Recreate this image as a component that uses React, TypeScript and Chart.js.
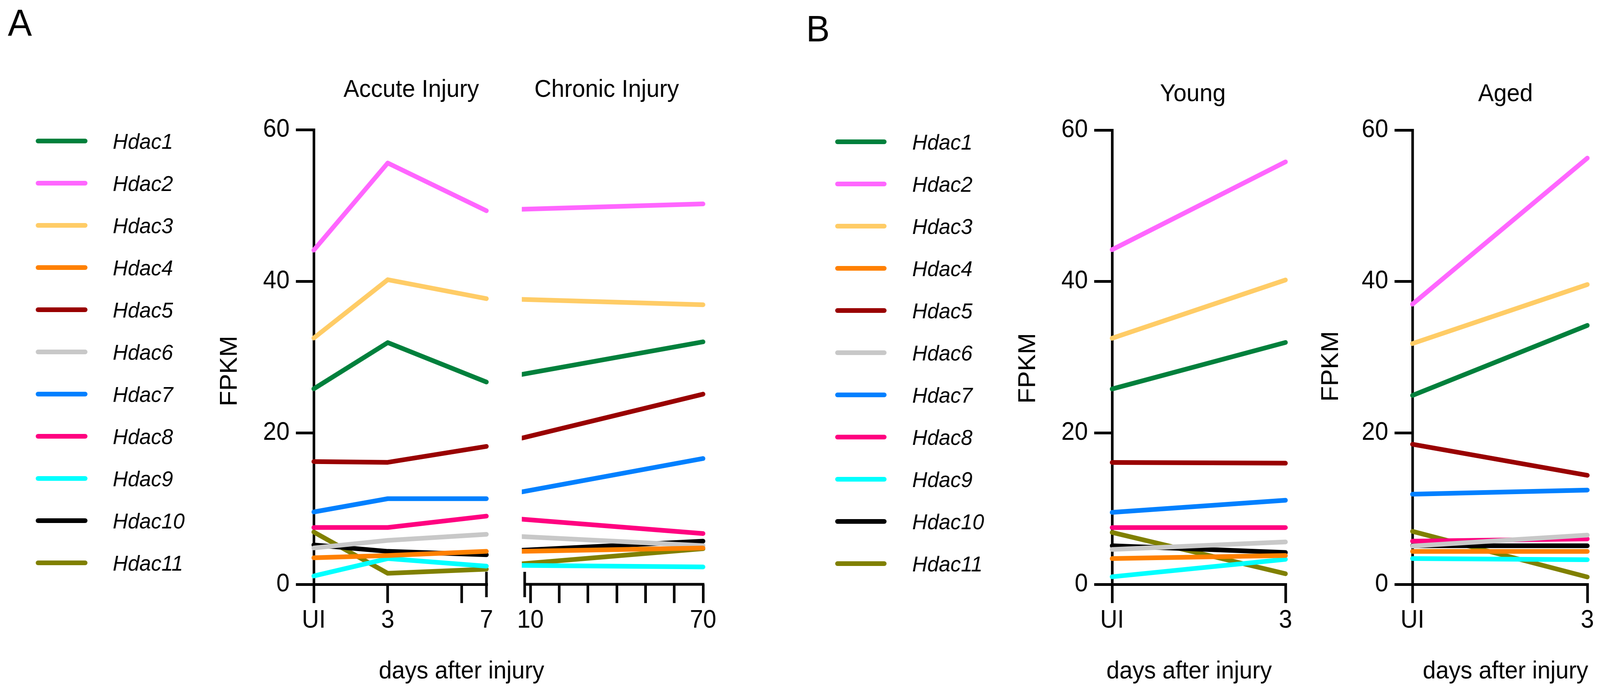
import React, { useEffect, useRef } from 'react';
import { Chart, registerables } from 'chart.js';

Chart.register(...registerables);

// design space = the reference picture, in its own pixels
const PAGE_W = 4299;
const PAGE_H = 1764;
const FONT = '"Liberation Sans", Arial, Helvetica, sans-serif';
const Y_AXIS_W = 303;

// ---------------- data ----------------
const genes = ['Hdac1', 'Hdac2', 'Hdac3', 'Hdac4', 'Hdac5', 'Hdac6', 'Hdac7', 'Hdac8', 'Hdac9', 'Hdac10', 'Hdac11'];
const geneColors = ['#00803C', '#FF66FF', '#FFCC66', '#FF8000', '#990000', '#C8C8C8', '#0080FF', '#FF0080', '#00FFFF', '#000000', '#808000'];

const acuteDays = [0, 3, 7];
const acuteTickValues = [0, 3, 6, 7];
const acuteTickLabels = ['UI', '3', '', '7'];

const chronicDays = [7, 70];
const chronicTickValues = [10, 20, 30, 40, 50, 60, 70];
const chronicTickLabels = ['10', '', '', '', '', '', '70'];

const agingDays = [0, 3];
const agingTickValues = [0, 3];
const agingTickLabels = ['UI', '3'];

const fpkmTickValues = [0, 20, 40, 60];

// rows follow the order of `genes`
const acuteFpkm = [
  [25.8, 31.9, 26.7],
  [44.1, 55.6, 49.3],
  [32.5, 40.2, 37.7],
  [3.5, 3.8, 4.35],
  [16.2, 16.1, 18.2],
  [4.8, 5.8, 6.6],
  [9.55, 11.3, 11.3],
  [7.5, 7.5, 9.0],
  [1.1, 3.4, 2.4],
  [5.2, 4.35, 3.9],
  [6.9, 1.45, 2.0],
];

const chronicFpkm = [
  [27.7, 32.0],
  [49.5, 50.2],
  [37.6, 36.9],
  [4.35, 4.8],
  [19.3, 25.1],
  [6.3, 5.1],
  [12.2, 16.6],
  [8.6, 6.7],
  [2.5, 2.3],
  [4.5, 5.7],
  [2.7, 4.7],
];

const youngFpkm = [
  [25.8, 31.95],
  [44.2, 55.8],
  [32.5, 40.2],
  [3.4, 3.8],
  [16.1, 16.0],
  [4.6, 5.6],
  [9.5, 11.1],
  [7.5, 7.5],
  [1.0, 3.3],
  [5.1, 4.2],
  [6.85, 1.4],
];

const agedFpkm = [
  [24.95, 34.2],
  [37.0, 56.3],
  [31.8, 39.6],
  [4.35, 4.35],
  [18.5, 14.4],
  [5.05, 6.5],
  [11.9, 12.45],
  [5.7, 6.0],
  [3.4, 3.25],
  [5.1, 5.1],
  [7.0, 0.97],
];

// ---------------- plugins ----------------
type TextItem = {
  text: string;
  x: number;
  y: number;
  size: number;
  rotate?: boolean;
  align?: CanvasTextAlign;
  baseline?: CanvasTextBaseline;
};

function textPlugin(items: TextItem[]) {
  return {
    id: 'panelText',
    afterDraw(chart: any) {
      const ctx: CanvasRenderingContext2D = chart.ctx;
      items.forEach((t) => {
        ctx.save();
        ctx.fillStyle = '#000';
        ctx.font = `${t.size}px ${FONT}`;
        ctx.textAlign = t.align ?? 'center';
        ctx.textBaseline = t.baseline ?? 'middle';
        ctx.translate(t.x, t.y);
        if (t.rotate) ctx.rotate(-Math.PI / 2);
        ctx.fillText(t.text, 0, 0);
        ctx.restore();
      });
    },
  };
}

type LegendSpec = { lineFrom: number; lineTo: number; textX: number; firstY: number; rowGap: number; size: number };

function legendPlugin(spec: LegendSpec) {
  return {
    id: 'geneLegend',
    afterDraw(chart: any) {
      const ctx: CanvasRenderingContext2D = chart.ctx;
      chart.data.datasets.forEach((ds: any, i: number) => {
        const y = spec.firstY + i * spec.rowGap;
        ctx.save();
        ctx.strokeStyle = ds.borderColor;
        ctx.lineWidth = 12;
        ctx.lineCap = 'round';
        ctx.beginPath();
        ctx.moveTo(spec.lineFrom, y);
        ctx.lineTo(spec.lineTo, y);
        ctx.stroke();
        ctx.fillStyle = '#000';
        ctx.font = `italic ${spec.size}px ${FONT}`;
        ctx.textAlign = 'left';
        ctx.textBaseline = 'alphabetic';
        ctx.fillText(ds.label, spec.textX, y + spec.size * 0.36);
        ctx.restore();
      });
    },
  };
}

function axisBreakPlugin(axisFrom: number | undefined, breaks: number[]) {
  return {
    id: 'axisBreak',
    beforeDatasetsDraw(chart: any) {
      const ctx: CanvasRenderingContext2D = chart.ctx;
      const xs = chart.scales.x;
      const { bottom, right } = chart.chartArea;
      ctx.save();
      ctx.strokeStyle = '#000';
      ctx.lineWidth = 7;
      ctx.lineCap = 'butt';
      if (axisFrom !== undefined) {
        ctx.beginPath();
        ctx.moveTo(xs.getPixelForValue(axisFrom), bottom);
        ctx.lineTo(right + 3.5, bottom);
        ctx.stroke();
      }
      breaks.forEach((b) => {
        const px = xs.getPixelForValue(b);
        ctx.beginPath();
        ctx.moveTo(px, bottom - 32);
        ctx.lineTo(px, bottom + 33);
        ctx.stroke();
      });
      ctx.restore();
    },
  };
}

// ---------------- panel builder ----------------
type Panel = {
  days: number[];
  values: number[][];
  xMin: number;
  xMax: number;
  tickValues: number[];
  tickLabels: string[];
  hiddenTicks: number[];
  area: { left: number; right: number; top: number; bottom: number };
  showY: boolean;
  axisFrom?: number;
  breaks: number[];
  clip: { left: number; right: number; top: number; bottom: number };
  texts: TextItem[];
  legend?: LegendSpec;
};

function panelConfig(p: Panel): any {
  const datasets = genes.map((g, i) => ({
    label: g,
    data: p.days.map((d, j) => ({ x: d, y: p.values[i][j] })),
    borderColor: geneColors[i],
    backgroundColor: geneColors[i],
    borderWidth: 12,
    pointRadius: 0,
    pointHoverRadius: 0,
    tension: 0,
    fill: false,
    borderCapStyle: 'round',
    borderJoinStyle: 'round',
    clip: p.clip,
  }));
  const tickFont = { family: FONT, size: 64 };
  const plugins: any[] = [axisBreakPlugin(p.axisFrom, p.breaks), textPlugin(p.texts)];
  if (p.legend) plugins.push(legendPlugin(p.legend));
  return {
    type: 'line',
    data: { datasets },
    options: {
      animation: false,
      responsive: false,
      maintainAspectRatio: false,
      devicePixelRatio: 1,
      events: [],
      layout: {
        padding: {
          left: p.area.left - (p.showY ? Y_AXIS_W : 0),
          right: PAGE_W - p.area.right,
          top: p.area.top,
          bottom: 0,
        },
      },
      plugins: { legend: { display: false }, tooltip: { enabled: false }, title: { display: false } },
      scales: {
        x: {
          type: 'linear',
          min: p.xMin,
          max: p.xMax,
          offset: false,
          afterBuildTicks: (s: any) => {
            s.ticks = p.tickValues.map((v) => ({ value: v }));
          },
          afterFit: (s: any) => {
            s.height = PAGE_H - p.area.bottom;
          },
          ticks: {
            autoSkip: false,
            maxRotation: 0,
            minRotation: 0,
            padding: 7,
            color: '#000',
            font: tickFont,
            callback: (v: number) => {
              const k = p.tickValues.indexOf(v);
              return k >= 0 ? p.tickLabels[k] : '';
            },
          },
          grid: {
            drawOnChartArea: false,
            drawTicks: true,
            tickLength: 48,
            color: '#000',
            lineWidth: (c: any) => (c.tick && p.hiddenTicks.includes(c.tick.value) ? 0 : 7),
          },
          border: { display: p.axisFrom === undefined, color: '#000', width: 7 },
        },
        y: {
          type: 'linear',
          display: p.showY,
          min: 0,
          max: 60,
          afterBuildTicks: (s: any) => {
            s.ticks = fpkmTickValues.map((v) => ({ value: v }));
          },
          afterFit: (s: any) => {
            s.width = p.showY ? Y_AXIS_W : 0;
          },
          ticks: { padding: 17, color: '#000', font: tickFont },
          grid: { drawOnChartArea: false, drawTicks: true, tickLength: 48, color: '#000', lineWidth: 7 },
          border: { display: true, color: '#000', width: 7 },
        },
      },
    },
    plugins,
  };
}

function buildPanels(): Panel[] {
  const acute: Panel = {
    days: acuteDays,
    values: acuteFpkm,
    xMin: 0,
    xMax: 7,
    tickValues: acuteTickValues,
    tickLabels: acuteTickLabels,
    hiddenTicks: [7],
    area: { left: 843, right: 1307, top: 332, bottom: 1496 },
    showY: true,
    breaks: [7],
    clip: { left: 8, right: 7, top: 20, bottom: 20 },
    texts: [
      { text: 'A', x: 21, y: 91, size: 97, align: 'left', baseline: 'alphabetic' },
      { text: 'Accute Injury', x: 1105, y: 231, size: 63 },
      { text: 'FPKM', x: 618, y: 950, size: 65, rotate: true },
      { text: 'days after injury', x: 1240, y: 1720, size: 63 },
    ],
    legend: { lineFrom: 102, lineTo: 229, textX: 303, firstY: 361, rowGap: 108, size: 56 },
  };
  const chronic: Panel = {
    days: chronicDays,
    values: chronicFpkm,
    xMin: 7,
    xMax: 70,
    tickValues: chronicTickValues,
    tickLabels: chronicTickLabels,
    hiddenTicks: [],
    area: { left: 1402, right: 1889, top: 332, bottom: 1496 },
    showY: false,
    axisFrom: 8,
    breaks: [8],
    clip: { left: 0, right: 8, top: 20, bottom: 20 },
    texts: [{ text: 'Chronic Injury', x: 1630, y: 231, size: 63 }],
  };
  const young: Panel = {
    days: agingDays,
    values: youngFpkm,
    xMin: 0,
    xMax: 3,
    tickValues: agingTickValues,
    tickLabels: agingTickLabels,
    hiddenTicks: [],
    area: { left: 2988, right: 3454, top: 333, bottom: 1496 },
    showY: true,
    breaks: [],
    clip: { left: 8, right: 8, top: 20, bottom: 20 },
    texts: [
      { text: 'B', x: 2166, y: 106, size: 95, align: 'left', baseline: 'alphabetic' },
      { text: 'Young', x: 3205, y: 242, size: 63 },
      { text: 'FPKM', x: 2763, y: 943, size: 65, rotate: true },
      { text: 'days after injury', x: 3195, y: 1720, size: 63 },
    ],
    legend: { lineFrom: 2250, lineTo: 2376, textX: 2451, firstY: 363, rowGap: 108, size: 56 },
  };
  const aged: Panel = {
    days: agingDays,
    values: agedFpkm,
    xMin: 0,
    xMax: 3,
    tickValues: agingTickValues,
    tickLabels: agingTickLabels,
    hiddenTicks: [],
    area: { left: 3795, right: 4265, top: 333, bottom: 1496 },
    showY: true,
    breaks: [],
    clip: { left: 8, right: 8, top: 20, bottom: 20 },
    texts: [
      { text: 'Aged', x: 4045, y: 242, size: 63 },
      { text: 'FPKM', x: 3577, y: 938, size: 65, rotate: true },
      { text: 'days after injury', x: 4045, y: 1720, size: 63 },
    ],
  };
  return [acute, chronic, young, aged];
}

export default function App() {
  const r0 = useRef<HTMLCanvasElement>(null);
  const r1 = useRef<HTMLCanvasElement>(null);
  const r2 = useRef<HTMLCanvasElement>(null);
  const r3 = useRef<HTMLCanvasElement>(null);

  useEffect(() => {
    document.body.style.margin = '0';
    document.body.style.overflow = 'hidden';
    Chart.defaults.font.family = FONT;
    const refs = [r0, r1, r2, r3];
    const panels = buildPanels();
    const charts = panels.map((p, i) => new Chart(refs[i].current as HTMLCanvasElement, panelConfig(p)));
    return () => charts.forEach((c) => c.destroy());
  }, []);

  // the canvases keep the picture's own pixel grid; CSS stretches them over the whole viewport
  const canvasStyle: React.CSSProperties = {
    position: 'absolute',
    left: 0,
    top: 0,
    width: '100%',
    height: '100%',
  };

  return (
    <div
      style={{
        position: 'fixed',
        left: 0,
        top: 0,
        width: '100vw',
        height: '100vh',
        background: '#ffffff',
        overflow: 'hidden',
      }}
    >
      <canvas ref={r0} width={PAGE_W} height={PAGE_H} style={canvasStyle} />
      <canvas ref={r1} width={PAGE_W} height={PAGE_H} style={canvasStyle} />
      <canvas ref={r2} width={PAGE_W} height={PAGE_H} style={canvasStyle} />
      <canvas ref={r3} width={PAGE_W} height={PAGE_H} style={canvasStyle} />
    </div>
  );
}
